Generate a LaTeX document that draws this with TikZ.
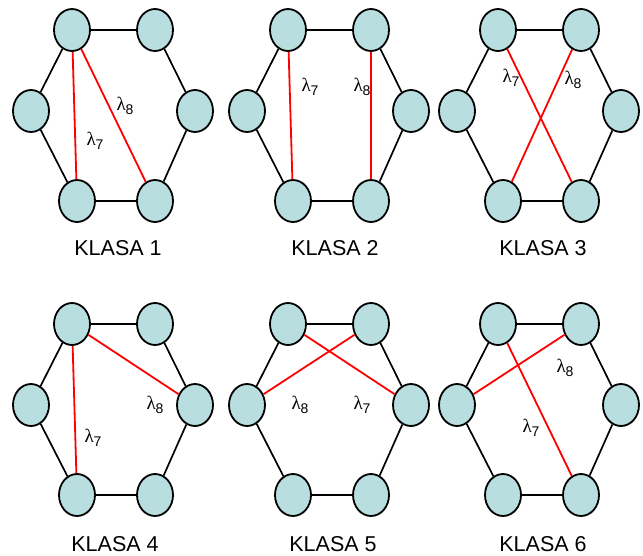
\documentclass[tikz,border=0pt]{standalone}
\usepackage{fontspec}
\setmainfont{Liberation Sans}
\newfontfamily\greekfont{Liberation Serif}
\definecolor{nodefill}{HTML}{B9DEE0}
\begin{document}
\begin{tikzpicture}[x=1pt,y=-1pt,
  vertex/.style={ellipse, draw=black, line width=1.8pt, fill=nodefill,
    minimum width=36pt, minimum height=42pt, inner sep=0pt},
  ring/.style={draw=black, line width=1.7pt},
  chord/.style={draw=red, line width=1.8pt},
  lab/.style={inner sep=0pt, font=\fontsize{19}{19}\selectfont},
  title/.style={inner sep=0pt, font=\fontsize{21.5}{23}\selectfont}]
\usetikzlibrary{shapes.geometric}
\useasboundingbox (0,0) rectangle (643,555);
% six vertices of a hexagon plus its outer ring, shifted by (#2,#3)
\newcommand\hexpanel[3]{%
  \begin{scope}[shift={(#2,#3)}]
    \node[vertex] (#1tl) at (72,30) {};
    \node[vertex] (#1tr) at (155,30) {};
    \node[vertex] (#1ml) at (31,111) {};
    \node[vertex] (#1mr) at (195,111) {};
    \node[vertex] (#1bl) at (77,201) {};
    \node[vertex] (#1br) at (155,201) {};
  \end{scope}
  \draw[ring] (#1tl) -- (#1tr);
  \draw[ring] (#1tr) -- (#1mr);
  \draw[ring] (#1mr) -- (#1br);
  \draw[ring] (#1br) -- (#1bl);
  \draw[ring] (#1bl) -- (#1ml);
  \draw[ring] (#1ml) -- (#1tl);
}
\newcommand\lam[1]{{\greekfont λ}\raisebox{-3.5pt}{\fontsize{14}{14}\selectfont #1}}

\hexpanel{a}{0}{0}
\hexpanel{b}{216}{0}
\hexpanel{c}{426}{0}
\hexpanel{d}{0}{294}
\hexpanel{e}{216}{294}
\hexpanel{f}{426}{294}

% labels of the two extra edges
\node[lab] (a8) at (125,106) {\lam{8}};
\node[lab] (a7) at (95,141) {\lam{7}};
\node[lab] (b7) at (310,87) {\lam{7}};
\node[lab] (b8) at (362,87) {\lam{8}};
\node[lab] (c7) at (511,78) {\lam{7}};
\node[lab] (c8) at (573,80) {\lam{8}};
\node[lab] (d8) at (155,405) {\lam{8}};
\node[lab] (d7) at (93,438) {\lam{7}};
\node[lab] (e8) at (300,405) {\lam{8}};
\node[lab] (e7) at (362,405) {\lam{7}};
\node[lab] (f8) at (565,368) {\lam{8}};
\node[lab] (f7) at (531,428) {\lam{7}};

% the two extra edges of each class
\draw[chord] (atl) -- (abl);
\draw[chord] (atl) -- (abr);
\draw[chord] (btl) -- (bbl);
\draw[chord] (btr) -- (bbr);
\draw[chord] (ctl) -- (cbr);
\draw[chord] (ctr) -- (cbl);
\draw[chord] (dtl) -- (dbl);
\draw[chord] (dtl) -- (dmr);
\draw[chord] (etl) -- (emr);
\draw[chord] (etr) -- (eml);
\draw[chord] (ftl) -- (fbr);
\draw[chord] (ftr) -- (fml);

% class captions
\node[title] (ta) at (118,248) {KLASA 1};
\node[title] (tb) at (335,248) {KLASA 2};
\node[title] (tc) at (543,248) {KLASA 3};
\node[title] (td) at (115,544) {KLASA 4};
\node[title] (te) at (333,544) {KLASA 5};
\node[title] (tf) at (543,544) {KLASA 6};
\end{tikzpicture}
\end{document}
